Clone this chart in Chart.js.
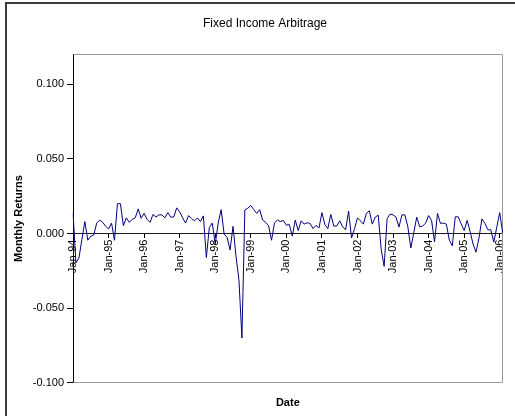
<!DOCTYPE html>
<html>
<head>
<meta charset="utf-8">
<script src="https://cdn.jsdelivr.net/npm/chart.js@4.4.1/dist/chart.umd.min.js"></script>
<style>
  html, body { margin: 0; padding: 0; background: #fff; }
  #wrap { position: relative; width: 515px; height: 416px; overflow: hidden; }
  #frame { position: absolute; left: 5px; top: 2px; width: 700px; height: 700px;
           border: 2px solid #3c3c3c; box-sizing: border-box; }
  #chart { position: absolute; left: 0; top: 0; }
</style>
</head>
<body>
<div id="wrap">
  <div id="frame"></div>
  <canvas id="chart" width="515" height="416"></canvas>
</div>
<script>
// Monthly returns, Jan-94 through Feb-06
const monthNames = ['Jan','Feb','Mar','Apr','May','Jun','Jul','Aug','Sep','Oct','Nov','Dec'];
const years = ['94','95','96','97','98','99','00','01','02','03','04','05','06'];
const lastMonthOf06 = 2; // Jan and Feb 2006

const returns = [
  0.0137, -0.0196, -0.0165, -0.0040, 0.0080, -0.0045, -0.0018, -0.0010, 0.0070, 0.0090, 0.0075, 0.0050,
  0.0030, 0.0070, -0.0045, 0.0200, 0.0200, 0.0053, 0.0105, 0.0075, 0.0095, 0.0105, 0.0165, 0.0102,
  0.0135, 0.0095, 0.0075, 0.0128, 0.0110, 0.0125, 0.0125, 0.0105, 0.0140, 0.0110, 0.0110, 0.0172,
  0.0145, 0.0105, 0.0070, 0.0120, 0.0100, 0.0085, 0.0105, 0.0080, 0.0118, -0.0161, 0.0040, 0.0070,
  -0.0072, 0.0070, 0.0160, -0.0004, -0.0025, -0.0110, 0.0048, -0.0150, -0.0310, -0.0700, 0.0158, 0.0170,
  0.0188, 0.0160, 0.0135, 0.0160, 0.0090, 0.0075, 0.0053, -0.0045, 0.0072, 0.0090, 0.0080, 0.0088,
  0.0056, 0.0060, -0.0017, 0.0090, 0.0020, 0.0085, 0.0063, 0.0072, 0.0068, 0.0033, 0.0055, 0.0037,
  0.0140, 0.0060, 0.0033, 0.0128, 0.0050, 0.0050, 0.0085, 0.0045, 0.0025, 0.0150, -0.0030, 0.0032,
  0.0105, 0.0085, 0.0063, 0.0135, 0.0152, 0.0063, 0.0110, 0.0123, -0.0105, -0.0220, 0.0100, 0.0130,
  0.0125, 0.0110, 0.0043, 0.0125, 0.0125, 0.0045, -0.0097, 0.0005, 0.0110, 0.0045, 0.0050, 0.0070,
  0.0120, 0.0088, -0.0055, 0.0135, 0.0068, 0.0070, 0.0063, -0.0045, -0.0082, 0.0112, 0.0112, 0.0065,
  0.0020, 0.0088, 0.0015, -0.0070, -0.0125, -0.0030, 0.0098, 0.0068, 0.0025, 0.0025, -0.0058, 0.0042,
  0.0140, 0.0004
];

const yTicks = [-0.1, -0.05, 0, 0.05, 0.1];

// month labels such as "Jan-94"
const labels = [];
years.forEach((yy, k) => {
  const count = k === years.length - 1 ? lastMonthOf06 : 12;
  for (let m = 0; m < count; m++) labels.push(monthNames[m] + '-' + yy);
});

const FONT = "Arial, 'Liberation Sans', sans-serif";

// gray frame along the top, right and bottom of the plot area
const plotFrame = {
  id: 'plotFrame',
  beforeDatasetsDraw(chart) {
    const { ctx, chartArea: a } = chart;
    ctx.save();
    ctx.strokeStyle = '#9a9a9a';
    ctx.lineWidth = 1;
    ctx.beginPath();
    ctx.moveTo(Math.round(a.left) + 0.5, Math.round(a.top) + 0.5);
    ctx.lineTo(Math.round(a.right) - 0.5, Math.round(a.top) + 0.5);
    ctx.lineTo(Math.round(a.right) - 0.5, Math.round(a.bottom) - 0.5);
    ctx.lineTo(Math.round(a.left) + 0.5, Math.round(a.bottom) - 0.5);
    ctx.stroke();
    ctx.restore();
  }
};

new Chart(document.getElementById('chart'), {
  type: 'line',
  data: {
    labels: labels,
    datasets: [{
      data: returns,
      borderColor: '#000080',
      borderWidth: 1,
      pointRadius: 0,
      tension: 0,
      fill: false
    }]
  },
  options: {
    responsive: false,
    animation: false,
    devicePixelRatio: 1,
    layout: { padding: { left: 15, right: 0, top: 0, bottom: 6 } },
    plugins: {
      legend: { display: false },
      tooltip: { enabled: false },
      title: {
        display: true,
        text: 'Fixed Income Arbitrage',
        color: '#000',
        font: { family: FONT, size: 12, weight: 'normal' },
        padding: { top: 16, bottom: 24 }
      },
      subtitle: {
        display: true,
        position: 'bottom',
        fullSize: false,
        text: 'Date',
        color: '#000',
        font: { family: FONT, size: 11, weight: 'bold' },
        padding: { top: 14, bottom: 0 }
      }
    },
    scales: {
      x: {
        type: 'category',
        position: { y: 0 },
        offset: false,
        grid: { drawOnChartArea: false, drawTicks: true, tickLength: 4, color: '#000' },
        border: { display: true, color: '#1a1a1a', width: 1 },
        ticks: {
          autoSkip: false,
          minRotation: 90,
          maxRotation: 90,
          padding: 2,
          color: '#000',
          font: { family: FONT, size: 11 },
          callback: (v, i) => labels[i].startsWith('Jan') ? labels[i] : null
        }
      },
      y: {
        min: -0.1,
        max: 0.12,
        afterBuildTicks: (scale) => { scale.ticks = yTicks.map(v => ({ value: v })); },
        afterFit: (scale) => { scale.width = 58; },
        grid: { drawOnChartArea: false, drawTicks: true, tickLength: 6, color: '#000' },
        border: { display: true, color: '#000', width: 1 },
        ticks: {
          padding: 3,
          color: '#000',
          font: { family: FONT, size: 11 },
          callback: (v) => Number(v).toFixed(3)
        },
        title: {
          display: true,
          text: 'Monthly Returns',
          color: '#000',
          font: { family: FONT, size: 11, weight: 'bold' },
          padding: { top: -3, bottom: 0 }
        }
      },
      // empty right-hand strip between the plot and the edge of the canvas
      yRight: {
        type: 'linear',
        position: 'right',
        display: true,
        grid: { display: false },
        border: { display: false },
        ticks: { display: false },
        afterFit: (scale) => { scale.width = 8; }
      }
    }
  },
  plugins: [plotFrame]
});
</script>
</body>
</html>
